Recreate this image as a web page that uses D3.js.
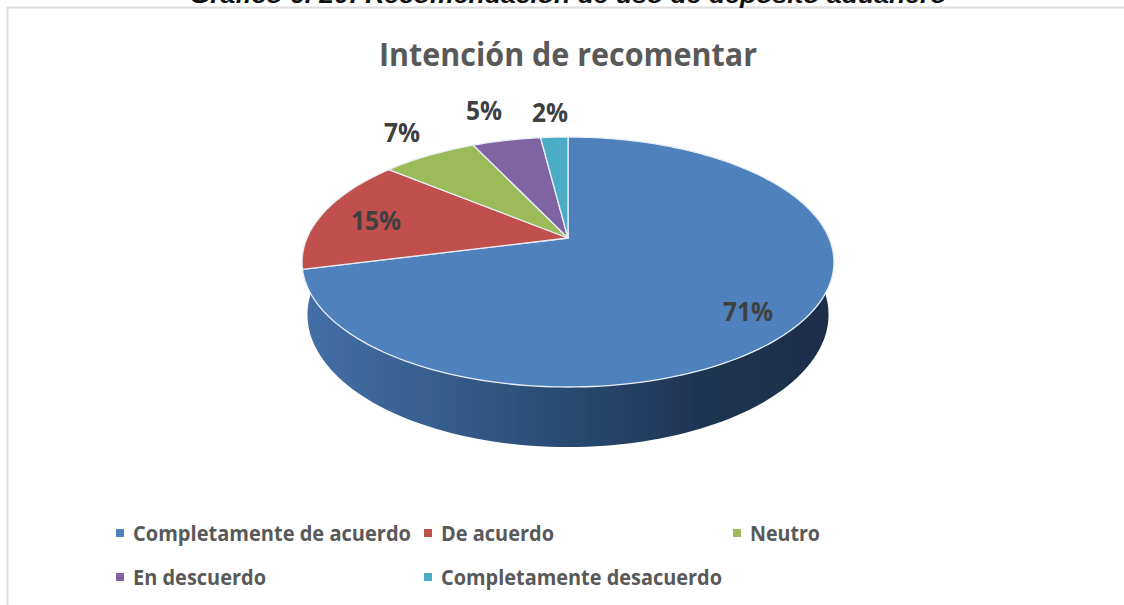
<!DOCTYPE html>
<html>
<head>
	<meta charset="utf-8">
	<title>Intención de recomentar</title>
	<style>
		html, body { margin: 0; background: #fff; }
		svg { display: block; }
		text { font-family: "Open Sans", sans-serif; font-weight: 700; }
	</style>
</head>
<body>
	<svg width="1124" height="605"></svg>
<script src="https://cdn.jsdelivr.net/npm/d3@7"></script>
<script>
	//datos
	const categories = ["Completamente de acuerdo", "De acuerdo", "Neutro", "En descuerdo", "Completamente desacuerdo"]
	const values = [71, 15, 7, 5, 2]
	const labels = ["71%", "15%", "7%", "5%", "2%"]
	const colors = ["#4f81bd", "#c0504d", "#9bbb59", "#8064a2", "#4bacc6"]
	const caption = "Gráfico 6. 20: Recomendación de uso de depósito aduanero"
	const chartTitle = "Intención de recomentar"

	const svg = d3.select("svg")

	//marco
	svg.append("path")
		.attr("d", "M7.5 605V7.5H1124")
		.attr("fill", "none").attr("stroke", "#dedede").attr("stroke-width", 2)

	//el pie de figura sale cortado por arriba, igual que en el original
	svg.append("text").text(caption)
		.attr("x", 568).attr("y", 3)
		.style("font-family", "'Liberation Sans', sans-serif")
		.attr("text-anchor", "middle")
		.attr("font-size", 24).attr("font-style", "italic")
		.attr("fill", "#111")
		.attr("textLength", 757).attr("lengthAdjust", "spacingAndGlyphs")

	svg.append("text").text(chartTitle)
		.attr("x", 568).attr("y", 66)
		.attr("text-anchor", "middle")
		.attr("font-size", 33).attr("fill", "#595959")
		.attr("textLength", 378).attr("lengthAdjust", "spacingAndGlyphs")

	//proyección en perspectiva del disco (t: ángulo, z: 0 arriba, 1 abajo)
	const cx = 568, cy = 238
	const project = (t, z = 0, r = 1) => {
		let u = r * Math.sin(t), v = r * Math.cos(t)
		let w = 1 + 0.192 * v + 0.02 * z
		return [cx + 261 * u / w, cy + (-120.4 * v + 52.7 * z) / w]
	}

	let defs = svg.append("defs")
	let grad = defs.append("linearGradient").attr("id", "wall")
		.attr("gradientUnits", "userSpaceOnUse")
		.attr("x1", 305).attr("x2", 832).attr("y1", 0).attr("y2", 0)
	grad.selectAll("stop").data([[0, "#436fa6"], [0.25, "#365d8d"], [0.5, "#2a4a72"], [0.75, "#1e3552"], [1, "#1b2d47"]])
		.enter().append("stop")
		.attr("offset", d => d[0]).attr("stop-color", d => d[1])
	defs.append("filter").attr("id", "soft")
		.append("feGaussianBlur").attr("stdDeviation", 0.5)

	let pie3d = svg.append("g").attr("filter", "url(#soft)")

	//pared lateral
	const line = d3.line()
	const tL = Math.PI * 0.5, tR = Math.PI * 1.5
	let steps = d3.range(0, 121).map(i => tL - 0.2 + (tR - tL + 0.4) * i / 120)
	let wallPts = steps.map(t => project(t, 1)).concat(steps.slice().reverse().map(t => project(t, 0)))
	pie3d.append("path").attr("d", line(wallPts) + "Z").attr("fill", "url(#wall)")

	//sectores
	const arcs = d3.pie().sort(null).value(d => d)(values)
	const slicePts = a => {
		let n = Math.max(8, Math.ceil((a.endAngle - a.startAngle) * 40))
		let pts = d3.range(0, n + 1).map(i => project(a.startAngle + (a.endAngle - a.startAngle) * i / n))
		return [project(0, 0, 0)].concat(pts)
	}
	pie3d.append("g").selectAll("path").data(arcs).enter().append("path")
		.attr("d", d => line(slicePts(d)) + "Z")
		.attr("fill", (d, i) => colors[i])
		.attr("stroke", "#e8eef5").attr("stroke-width", 1.3).attr("stroke-linejoin", "round")

	//etiquetas de datos
	const labelPos = [[748, 311], [376, 220], [402, 132], [484, 110], [550, 112]]
	svg.append("g").selectAll("text").data(labels).enter().append("text")
		.text(d => d)
		.attr("x", (d, i) => labelPos[i][0]).attr("y", (d, i) => labelPos[i][1])
		.attr("dy", "0.36em")
		.attr("text-anchor", "middle")
		.attr("font-size", 27).attr("fill", "#404040")
		.attr("textLength", (d) => d.length == 3 ? 50 : 36).attr("lengthAdjust", "spacingAndGlyphs")

	//leyenda
	const legendPos = [[133, 533], [441, 533], [750, 533], [133, 577], [441, 577]]
	const legendW = [278, 113, 70, 133, 281]
	let leg = svg.append("g").selectAll("g").data(categories).enter().append("g")
		.attr("transform", (d, i) => `translate(${legendPos[i][0]}, ${legendPos[i][1]})`)
	leg.append("rect")
		.attr("x", -17).attr("y", -4).attr("width", 8).attr("height", 8)
		.attr("fill", (d, i) => colors[i])
	leg.append("text").text(d => d)
		.attr("dy", "0.36em")
		.attr("font-size", 21).attr("fill", "#595959")
		.attr("textLength", (d, i) => legendW[i]).attr("lengthAdjust", "spacingAndGlyphs")
</script>
</body>
</html>
